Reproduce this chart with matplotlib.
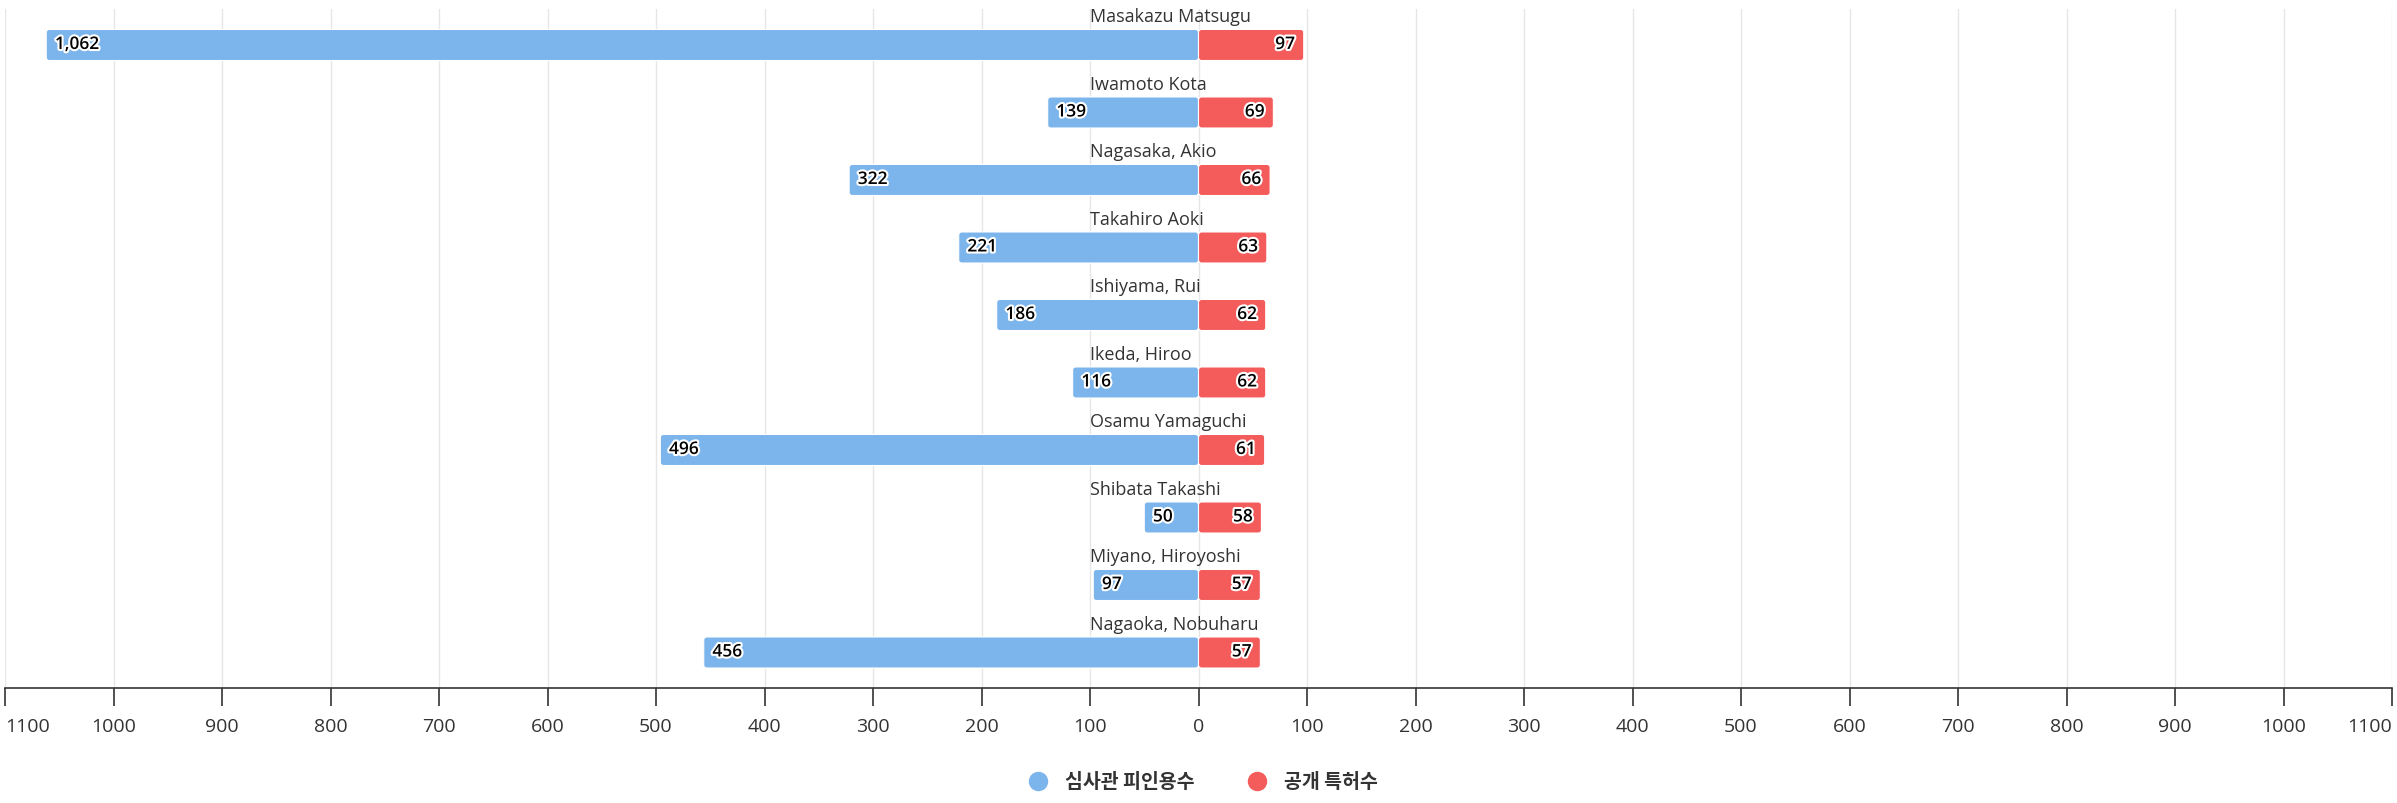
import matplotlib.pyplot as plt
import matplotlib.patheffects as pe
from matplotlib.patches import FancyBboxPatch
import numpy as np

names = ['Masakazu Matsugu', 'Iwamoto Kota', 'Nagasaka, Akio', 'Takahiro Aoki',
         'Ishiyama, Rui', 'Ikeda, Hiroo', 'Osamu Yamaguchi', 'Shibata Takashi',
         'Miyano, Hiroyoshi', 'Nagaoka, Nobuharu']
cited = [1062, 139, 322, 221, 186, 116, 496, 50, 97, 456]
patents = [97, 69, 66, 63, 62, 62, 61, 58, 57, 57]
series_names = ['심사관 피인용수', '공개 특허수']
ticks = np.arange(-1100, 1101, 100)

blue = '#7cb5ec'
red = '#f45b5b'

plt.rcParams['font.family'] = ['Open Sans', 'Noto Sans CJK KR', 'DejaVu Sans']

fig = plt.figure(figsize=(23.97, 8.04), dpi=100)
ax = fig.add_axes([5 / 2397, 1 - 689 / 804, 2387 / 2397, 679 / 804])

y = np.arange(len(names))
left_bars = ax.barh(y, [-v for v in cited], height=0.46, color=blue)
right_bars = ax.barh(y, patents, height=0.46, color=red)

# swap the plain rectangles for slightly rounded ones
for bars, c in ((left_bars, blue), (right_bars, red)):
    for p in bars:
        x0, w = p.get_x(), p.get_width()
        if w < 0:
            x0, w = x0 + w, -w
        p.set_visible(False)
        ax.add_patch(FancyBboxPatch((x0, p.get_y()), w, p.get_height(),
                                    boxstyle='round,pad=0,rounding_size=2.8',
                                    mutation_aspect=0.0159, facecolor=c,
                                    edgecolor='white', linewidth=0.8, zorder=3))

halo = [pe.withStroke(linewidth=3, foreground='white')]
for i in y:
    ax.text(-cited[i] + 8, i, f'{cited[i]:,}', ha='left', va='center',
            fontsize=12.5, fontweight='semibold', color='black',
            path_effects=halo, zorder=5)
    ax.text(patents[i] - 8, i, f'{patents[i]:,}', ha='right', va='center',
            fontsize=12.5, fontweight='semibold', color='black',
            path_effects=halo, zorder=5)
    ax.text(-100, i - 0.35, names[i], ha='left', va='baseline',
            fontsize=13, color='#333333', zorder=5)

ax.set_xlim(-1100, 1100)
ax.set_ylim(9.526, -0.533)
ax.set_xticks(ticks)
ax.set_xticklabels([str(abs(t)) for t in ticks], fontsize=14, color='#333333')
labels = ax.get_xticklabels()
labels[0].set_ha('left')
labels[-1].set_ha('right')
ax.set_yticks([])
ax.grid(axis='x', color='#e6e6e6', linewidth=1, zorder=0)
for s in ['top', 'right', 'left']:
    ax.spines[s].set_visible(False)
ax.spines['bottom'].set_color('#333333')
ax.spines['bottom'].set_linewidth(1.2)
ax.tick_params(axis='x', length=13, width=1.2, color='#333333', pad=8)

handles = [plt.Line2D([], [], marker='o', ls='', markersize=13, color=c)
           for c in (blue, red)]
fig.legend(handles, series_names, loc='center', bbox_to_anchor=(0.5, 1 - 783 / 804),
           ncol=2, frameon=False, handletextpad=0.4, columnspacing=2.2,
           prop={'family': ['Noto Sans CJK KR', 'DejaVu Sans'], 'weight': 'bold', 'size': 14})
for t in fig.legends[0].get_texts():
    t.set_color('#333333')

fig.savefig('out.png', dpi=100)
